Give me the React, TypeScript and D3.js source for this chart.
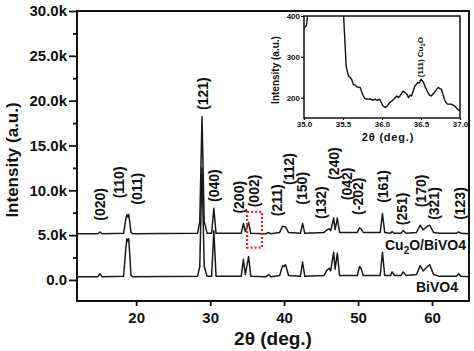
import React, { useEffect, useRef } from 'react';
import * as d3 from 'd3';

// 2θ (deg.) vs intensity (k counts)
const bivo4: [number, number][] = [
  [12, 0.35], [14.8, 0.35], [15.1, 0.7], [15.4, 0.35], [18.3, 0.4], [18.6, 3.5], [18.75, 4.6], [18.9, 4.3],
  [19.0, 4.6], [19.3, 0.5], [19.6, 0.35], [28.3, 0.4], [28.6, 1.5], [28.9, 12.5], [29.2, 1.5], [29.6, 0.4],
  [30.2, 0.4], [30.5, 5.5], [30.8, 0.4], [34.2, 0.4], [34.5, 2.3], [34.75, 0.6], [35.2, 2.6], [35.5, 0.4],
  [37.5, 0.35], [37.9, 0.6], [38.2, 0.35], [39.4, 0.5], [39.8, 1.6], [40.0, 1.5], [40.2, 1.7], [40.6, 0.5],
  [42.2, 0.4], [42.5, 2.0], [42.8, 0.4], [45.4, 0.5], [45.8, 1.1], [46.1, 1.3], [46.3, 1.0], [46.7, 3.1],
  [46.9, 1.2], [47.2, 3.0], [47.5, 0.5], [49.9, 0.5], [50.2, 1.5], [50.4, 1.3], [50.7, 0.5], [53.0, 0.5],
  [53.3, 3.1], [53.6, 0.5], [54.4, 0.5], [54.6, 0.9], [54.9, 0.5], [55.8, 0.5], [56.1, 0.9], [56.5, 0.5],
  [57.9, 0.6], [58.4, 1.6], [58.8, 1.0], [59.4, 1.5], [59.7, 1.7], [60.2, 0.6], [61, 0.4], [63.3, 0.4],
  [63.6, 0.7], [63.9, 0.4], [65, 0.35],
];

const cu2oBivo4: [number, number][] = [
  [12, 5.15], [14.8, 5.15], [15.1, 5.35], [15.4, 5.15], [18.3, 5.2], [18.6, 6.8], [18.75, 7.3], [18.9, 7.0],
  [19.0, 7.3], [19.3, 5.3], [19.6, 5.15], [28.3, 5.2], [28.6, 6.5], [28.9, 18.2], [29.2, 6.5], [29.6, 5.2],
  [30.2, 5.2], [30.5, 8.0], [30.8, 5.2], [34.2, 5.2], [34.5, 6.3], [34.75, 5.4], [35.2, 6.4], [35.5, 5.2],
  [37.5, 5.15], [37.9, 5.3], [38.2, 5.15], [39.4, 5.3], [39.8, 6.0], [40.2, 5.9], [40.6, 5.3], [42.2, 5.2],
  [42.5, 6.3], [42.8, 5.2], [45.4, 5.3], [45.8, 5.6], [46.1, 5.7], [46.3, 5.5], [46.7, 6.9], [46.9, 5.6],
  [47.2, 6.9], [47.5, 5.3], [49.9, 5.3], [50.2, 5.8], [50.4, 5.7], [50.7, 5.3], [53.0, 5.3], [53.3, 7.4],
  [53.6, 5.3], [54.4, 5.2], [54.6, 5.4], [54.9, 5.2], [55.8, 5.2], [56.1, 5.5], [56.5, 5.2], [57.9, 5.3],
  [58.4, 6.1], [58.8, 5.6], [59.4, 6.0], [59.7, 6.1], [60.2, 5.3], [61, 5.2], [63.3, 5.2], [63.6, 5.35],
  [63.9, 5.2], [65, 5.15],
];

// hkl label, 2θ, intensity where the label starts
const peakLabels: [string, number, number][] = [
  ['(020)', 15.07, 6.6], ['(110)', 17.64, 9.1], ['(011)', 20.07, 8.4], ['(121)', 28.99, 18.96],
  ['(040)', 30.47, 8.7], ['(200)', 33.85, 7.4], ['(002)', 35.88, 8.1], ['(211)', 38.99, 7.1],
  ['(112)', 40.61, 10.6], ['(150)', 42.36, 8.4], ['(132)', 44.93, 6.8], ['(240)', 46.69, 11.15],
  ['(042)', 48.45, 8.9], ['(-202)', 49.93, 7.25], ['(161)', 53.31, 8.6], ['(251)', 55.88, 6.1],
  ['(170)', 58.45, 8.1], ['(321)', 60.2, 6.7], ['(123)', 63.72, 6.7],
];

// inset: zoom of Cu2O/BiVO4 between 35 and 37 deg
const insetScan: [number, number][] = [
  [35.0, 371], [35.03, 376], [35.06, 420], [35.1, 600], [35.45, 600], [35.505, 410], [35.53, 318],
  [35.54, 277], [35.57, 253], [35.59, 250], [35.61, 245], [35.63, 233], [35.66, 230], [35.68, 226],
  [35.72, 225], [35.74, 214], [35.76, 204], [35.78, 198], [35.8, 196], [35.85, 197], [35.88, 194],
  [35.91, 196], [35.94, 193], [35.97, 196], [36.01, 180], [36.04, 176], [36.06, 178], [36.1, 188],
  [36.13, 192], [36.15, 196], [36.19, 204], [36.21, 200], [36.23, 204], [36.25, 210], [36.27, 216],
  [36.3, 212], [36.32, 208], [36.34, 200], [36.36, 206], [36.38, 204], [36.42, 228], [36.46, 237],
  [36.48, 236], [36.5, 245], [36.53, 238], [36.55, 228], [36.59, 212], [36.61, 206], [36.63, 204],
  [36.67, 212], [36.7, 220], [36.72, 225], [36.74, 222], [36.76, 221], [36.8, 196], [36.82, 188],
  [36.84, 184], [36.88, 184], [36.9, 183], [36.93, 180], [36.95, 176], [36.97, 171], [37.0, 168],
];

const xTicks = [20, 30, 40, 50, 60];
const yTicks = [0, 5, 10, 15, 20, 25, 30];
const yMinorTicks = [2.5, 7.5, 12.5, 17.5, 22.5, 27.5];
const insetXTicks = [35, 35.5, 36, 36.5, 37];
const insetYTicks = [200, 300, 400];
const zoomBox = { x: [35, 37], y: [3.6, 7.6] };

const FONT = "'Liberation Sans', Arial, sans-serif";

export default function App() {
  const svgRef = useRef<SVGSVGElement>(null);

  useEffect(() => {
    const svg = d3.select(svgRef.current);
    svg.selectAll('*').remove();
    svg.attr('font-family', FONT).attr('font-weight', 'bold');

    const x = d3.scaleLinear().domain([12, 65]).range([77, 469]);
    const y = d3.scaleLinear().domain([-2.35, 30]).range([301, 11]);

    svg.append('clipPath').attr('id', 'plotClip')
      .append('rect').attr('x', 77).attr('y', 11).attr('width', 392).attr('height', 290);

    const line = d3.line<[number, number]>().x(d => x(d[0])).y(d => y(d[1]));
    const traces = svg.append('g').attr('clip-path', 'url(#plotClip)');
    [bivo4, cu2oBivo4].forEach(s => {
      traces.append('path').attr('d', line(s)).attr('fill', 'none')
        .attr('stroke', '#1a1a1a').attr('stroke-width', 1.5).attr('stroke-linejoin', 'round');
    });

    // axes
    const xAxis = svg.append('g').attr('transform', 'translate(0,301)')
      .call(d3.axisBottom(x).tickValues(xTicks).tickSize(5).tickPadding(6).tickFormat(d3.format('d')));
    const yAxis = svg.append('g').attr('transform', 'translate(77,0)')
      .call(d3.axisLeft(y).tickValues(yTicks).tickSize(8).tickPadding(2)
        .tickFormat((d: any) => (d === 0 ? '0.0' : d.toFixed(1) + 'k')));
    const yMinor = svg.append('g').attr('transform', 'translate(77,0)')
      .call(d3.axisLeft(y).tickValues(yMinorTicks).tickSize(4).tickFormat(() => ''));
    [xAxis, yAxis, yMinor].forEach(g => {
      g.select('.domain').remove();
      g.selectAll('line').attr('stroke', '#111').attr('stroke-width', 1.8);
      g.selectAll('text').attr('font-family', FONT).attr('font-weight', 'bold')
        .attr('font-size', 15).attr('fill', '#111');
    });

    svg.append('rect').attr('x', 77).attr('y', 11).attr('width', 392).attr('height', 290)
      .attr('fill', 'none').attr('stroke', '#111').attr('stroke-width', 2);

    svg.append('text').attr('transform', 'translate(18,160) rotate(-90)')
      .attr('text-anchor', 'middle').attr('font-size', 17).attr('fill', '#111').text('Intensity (a.u.)');
    svg.append('text').attr('x', 273).attr('y', 345)
      .attr('text-anchor', 'middle').attr('font-size', 19).attr('fill', '#111').text('2θ (deg.)');

    // hkl labels
    peakLabels.forEach(([lab, tx, ty]) => {
      svg.append('text')
        .attr('transform', `translate(${x(tx)},${y(ty)}) rotate(-90)`)
        .attr('dy', '0.36em').attr('font-size', 14).attr('fill', '#111').text(lab);
    });

    // sample names
    const cu = svg.append('text').attr('x', 466).attr('y', 250).attr('text-anchor', 'end')
      .attr('font-size', 14).attr('fill', '#111');
    cu.append('tspan').text('Cu');
    cu.append('tspan').attr('font-size', 10).attr('dy', 4).text('2');
    cu.append('tspan').attr('dy', -4).text('O/BiVO4');
    svg.append('text').attr('x', 458).attr('y', 292).attr('text-anchor', 'end')
      .attr('font-size', 14).attr('fill', '#111').text('BiVO4');

    // red dotted box
    svg.append('rect')
      .attr('x', x(zoomBox.x[0])).attr('y', y(zoomBox.y[1]))
      .attr('width', x(zoomBox.x[1]) - x(zoomBox.x[0])).attr('height', y(zoomBox.y[0]) - y(zoomBox.y[1]))
      .attr('fill', 'none').attr('stroke', '#e3262d').attr('stroke-width', 2.2).attr('stroke-dasharray', '2,2');

    // inset
    const xi = d3.scaleLinear().domain([35, 37]).range([304, 460]);
    const yi = d3.scaleLinear().domain([150, 400]).range([118, 16]);
    svg.append('clipPath').attr('id', 'insetClip')
      .append('rect').attr('x', 304).attr('y', 16).attr('width', 156).attr('height', 102);
    const iline = d3.line<[number, number]>().x(d => xi(d[0])).y(d => yi(d[1]));
    svg.append('path').attr('clip-path', 'url(#insetClip)').attr('d', iline(insetScan))
      .attr('fill', 'none').attr('stroke', '#111').attr('stroke-width', 1.4).attr('stroke-linejoin', 'round');

    const ixAxis = svg.append('g').attr('transform', 'translate(0,118)')
      .call(d3.axisBottom(xi).tickValues(insetXTicks).tickSize(2).tickPadding(1).tickFormat(d3.format('.1f')));
    const iyAxis = svg.append('g').attr('transform', 'translate(304,0)')
      .call(d3.axisLeft(yi).tickValues(insetYTicks).tickSize(3).tickPadding(1).tickFormat(d3.format('d')));
    [ixAxis, iyAxis].forEach(g => {
      g.select('.domain').remove();
      g.selectAll('line').attr('stroke', '#111').attr('stroke-width', 1.2);
      g.selectAll('text').attr('font-family', FONT).attr('font-weight', 'bold')
        .attr('font-size', 8).attr('fill', '#111');
    });
    svg.append('rect').attr('x', 304).attr('y', 16).attr('width', 156).attr('height', 102)
      .attr('fill', 'none').attr('stroke', '#111').attr('stroke-width', 1.5);

    svg.append('text').attr('transform', 'translate(279,70) rotate(-90)')
      .attr('text-anchor', 'middle').attr('font-size', 10).attr('fill', '#111').text('Intensity (a.u.)');
    svg.append('text').attr('x', 388).attr('y', 141).attr('text-anchor', 'middle')
      .attr('font-size', 11).attr('letter-spacing', 0.8).attr('fill', '#111').text('2θ (deg.)');

    const cuLab = svg.append('text')
      .attr('transform', `translate(${xi(36.49)},${yi(250)}) rotate(-90)`)
      .attr('dy', '0.36em').attr('font-size', 8).attr('fill', '#111');
    cuLab.append('tspan').text('(111) Cu');
    cuLab.append('tspan').attr('font-size', 6).attr('dy', 2).text('2');
    cuLab.append('tspan').attr('dy', -2).text('O');
  }, []);

  return (
    <svg ref={svgRef} width={474} height={351}
      style={{ position: 'absolute', left: 0, top: 0, background: '#fff' }} />
  );
}
